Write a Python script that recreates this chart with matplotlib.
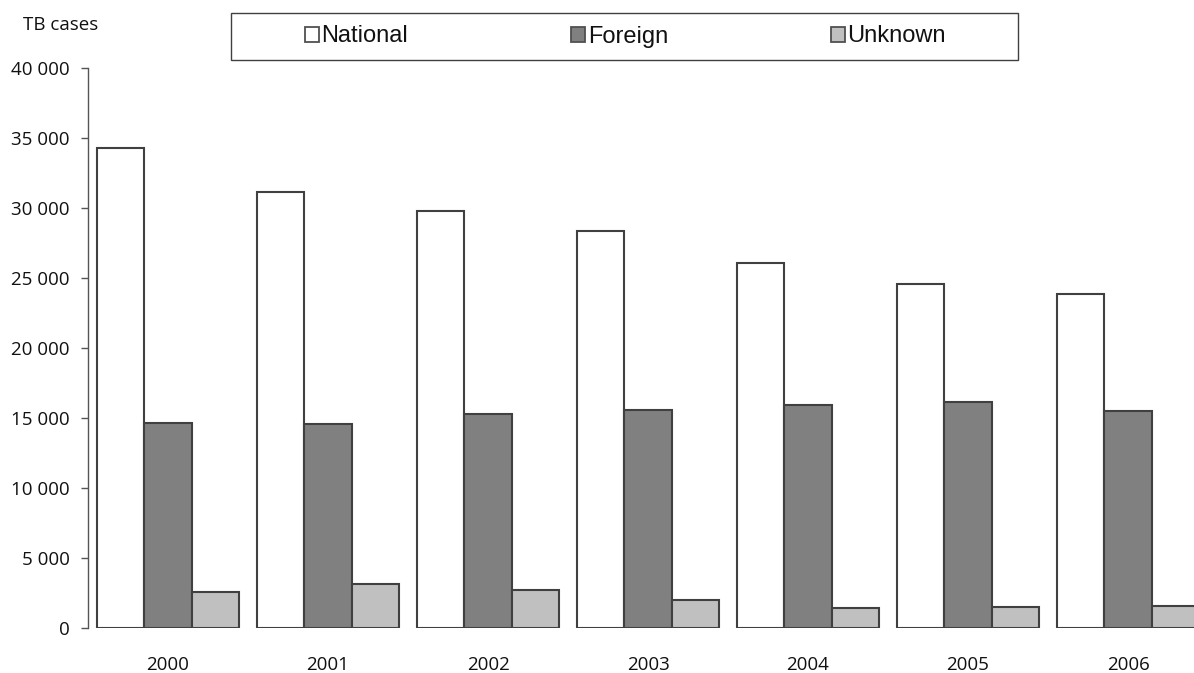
import matplotlib
matplotlib.use("Agg")
import matplotlib.pyplot as plt
import numpy as np
from matplotlib.patches import Patch, Rectangle
from matplotlib.ticker import FuncFormatter

years = ["2000", "2001", "2002", "2003", "2004", "2005", "2006"]
national = [34270, 31170, 29780, 28340, 26100, 24570, 23860]
foreign = [14670, 14570, 15300, 15560, 15960, 16120, 15530]
unknown = [2550, 3120, 2700, 1980, 1430, 1500, 1600]
series_names = ["National", "Foreign", "Unknown"]
series_colors = ["#ffffff", "#808080", "#c0c0c0"]
yticks = [0, 5000, 10000, 15000, 20000, 25000, 30000, 35000, 40000]

W, H = 1194, 673
fig = plt.figure(figsize=(W / 100, H / 100), dpi=100)
ax = fig.add_axes([88 / W, 45 / H, (1208 - 88) / W, (628 - 68) / H])

x = np.arange(len(years))
bw = 0.294
edge = "#404040"
for i, (vals, col) in enumerate(zip([national, foreign, unknown], series_colors)):
    ax.bar(x + (i - 1) * bw, vals, width=bw, color=col, edgecolor=edge,
           linewidth=1.5, zorder=3)

ax.set_xlim(-0.5, len(years) - 0.5)
ax.set_ylim(0, 40000)
ax.set_yticks(yticks)
ax.yaxis.set_major_formatter(FuncFormatter(lambda v, p: f"{int(v):,}".replace(",", " ")))
ax.set_xticks(x)
ax.set_xticklabels(years)

for s in ["top", "right", "bottom"]:
    ax.spines[s].set_visible(False)
ax.spines["left"].set_color("#555555")
ax.spines["left"].set_linewidth(1.0)

tick_font = "Open Sans"
ax.tick_params(axis="y", direction="out", length=5, width=1.0, color="#555555",
               pad=8, labelsize=13.5, labelcolor="#111111")
ax.tick_params(axis="x", length=0, pad=20, labelsize=13.5, labelcolor="#111111")
for lab in ax.get_yticklabels() + ax.get_xticklabels():
    lab.set_fontfamily(tick_font)

fig.text(23 / W, 1 - 25 / H, "TB cases", fontsize=13.5, fontfamily=tick_font,
         color="#111111", ha="left", va="center")

# legend frame
fig.patches.append(Rectangle((231 / W, 1 - 60 / H), (1018 - 231) / W, 47 / H,
                             transform=fig.transFigure, facecolor="white",
                             edgecolor="#404040", linewidth=1.0, zorder=1))

handles = [Patch(facecolor=c, edgecolor="#505050", linewidth=1.3) for c in series_colors]
leg = fig.legend(handles, series_names, loc="center", ncol=3,
                 bbox_to_anchor=(625.5 / W, 1 - 36.5 / H),
                 frameon=False,
                 prop={"family": "Liberation Sans", "size": 17},
                 handlelength=0.6, handleheight=0.6, handletextpad=0.1,
                 columnspacing=6.9, borderaxespad=0, borderpad=0)
leg.set_zorder(2)
for t in leg.get_texts():
    t.set_color("#111111")

fig.savefig("out.png", dpi=100)
